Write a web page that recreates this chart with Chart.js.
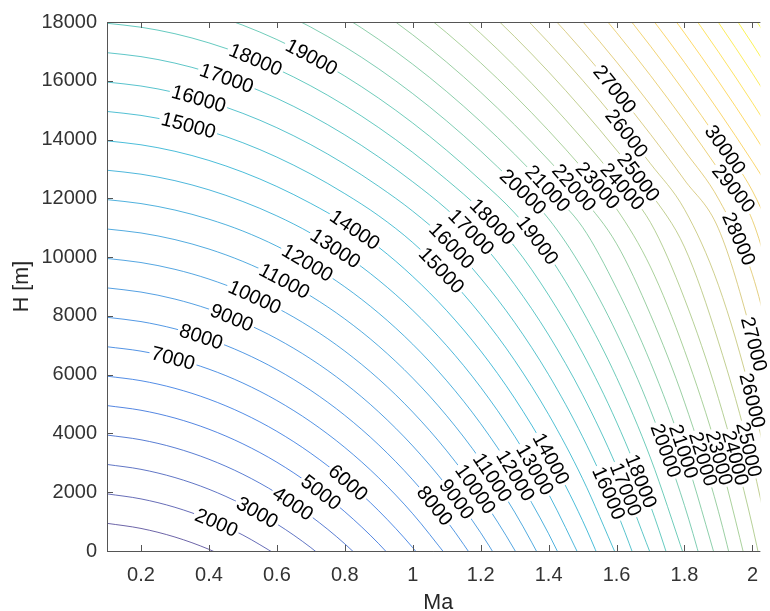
<!DOCTYPE html>
<html>
<head>
<meta charset="utf-8">
<script src="https://cdn.jsdelivr.net/npm/chart.js@4.4.1/dist/chart.umd.min.js"></script>
<style>
  html, body { margin: 0; padding: 0; background: #fff; }
  #wrap { width: 770px; height: 611px; }
</style>
</head>
<body>
<div id="wrap"><canvas id="chart" width="770" height="611"></canvas></div>
<script>
// Mach number columns at which each contour's altitude was read
const maCols = [0.1, 0.2, 0.3, 0.4, 0.5, 0.6, 0.7, 0.8, 0.9, 1.0, 1.1, 1.2, 1.3, 1.4, 1.5, 1.6, 1.7, 1.8, 1.9, 2.0, 2.1];

const levels = [1000, 2000, 3000, 4000, 5000, 6000, 7000, 8000, 9000, 10000, 11000, 12000,
    13000, 14000, 15000, 16000, 17000, 18000, 19000, 20000, 21000, 22000, 23000, 24000,
    25000, 26000, 27000, 28000, 29000, 30000, 31000, 32000, 33000, 34000, 35000, 36000];

// H [m] of each contour level at the Ma columns above
const h1000 = [942, 768, 475, 57, -491];
const h2000 = [1944, 1773, 1487, 1079, 543, -130];
const h3000 = [2945, 2779, 2499, 2101, 1578, 920, 116, -849];
const h4000 = [3946, 3784, 3511, 3122, 2612, 1970, 1185, 244, -874];
const h5000 = [4948, 4789, 4523, 4144, 3646, 3021, 2255, 1337, 247, -1039];
const h6000 = [5949, 5795, 5535, 5166, 4681, 4071, 3325, 2430, 1367, 114, -1359];
const h7000 = [6950, 6800, 6547, 6188, 5715, 5121, 4395, 3523, 2488, 1268, -167];
const h8000 = [7952, 7806, 7560, 7210, 6750, 6172, 5464, 4616, 3609, 2421, 1025, -615];
const h9000 = [8953, 8811, 8572, 8231, 7784, 7222, 6534, 5709, 4730, 3575, 2217, 622, -1255];
const h10000 = [9954, 9816, 9584, 9253, 8818, 8272, 7604, 6802, 5851, 4728, 3409, 1859, 35, -2119];
const h11000 = [10956, 10822, 10596, 10275, 9853, 9323, 8674, 7896, 6972, 5882, 4601, 3096, 1325, -766];
const h12000 = [11956, 11822, 11601, 11290, 10887, 10373, 9743, 8989, 8092, 7035, 5793, 4334, 2615, 587, -1823];
const h13000 = [12956, 12822, 12601, 12290, 11891, 11403, 10813, 10082, 9213, 8189, 6985, 5571, 3906, 1940, -395];
const h14000 = [13956, 13822, 13601, 13290, 12891, 12403, 11826, 11160, 10334, 9342, 8177, 6808, 5196, 3293, 1032, -1679];
const h15000 = [14956, 14822, 14601, 14290, 13891, 13403, 12826, 12160, 11406, 10496, 9369, 8045, 6486, 4646, 2460, -162];
const h16000 = [15956, 15822, 15601, 15290, 14891, 14403, 13826, 13160, 12406, 11563, 10561, 9282, 7776, 5999, 3887, 1355, -1713];
const h17000 = [16956, 16822, 16601, 16290, 15891, 15403, 14826, 14160, 13406, 12563, 11631, 10519, 9066, 7352, 5315, 2871, -88];
const h18000 = [17956, 17822, 17601, 17290, 16891, 16403, 15826, 15160, 14406, 13563, 12631, 11611, 10357, 8705, 6742, 4388, 1537, -1967];
const h19000 = [18956, 18822, 18601, 18290, 17891, 17403, 16826, 16160, 15406, 14563, 13631, 12611, 11501, 10058, 8170, 5905, 3162, -209];
const h20000 = [19956, 19822, 19601, 19290, 18891, 18403, 17826, 17160, 16406, 15563, 14631, 13611, 12501, 11303, 9597, 7422, 4788, 1549, -2508];
const h21000 = [20956, 20822, 20601, 20290, 19891, 19403, 18826, 18160, 17406, 16563, 15631, 14611, 13501, 12303, 11017, 8939, 6413, 3307, -583];
const h22000 = [21956, 21822, 21601, 21290, 20891, 20403, 19826, 19160, 18406, 17563, 16631, 15611, 14501, 13303, 12017, 10456, 8038, 5065, 1342, -3430];
const h23000 = [22956, 22822, 22601, 22290, 21891, 21403, 20826, 20160, 19406, 18563, 17631, 16611, 15501, 14303, 13017, 11641, 9663, 6824, 3267, -1292];
const h24000 = [23956, 23822, 23601, 23290, 22891, 22403, 21826, 21160, 20406, 19563, 18631, 17611, 16501, 15303, 14017, 12641, 11177, 8582, 5191, 847, -4900];
const h25000 = [24956, 24822, 24601, 24290, 23891, 23403, 22826, 22160, 21406, 20563, 19631, 18611, 17501, 16303, 15017, 13641, 12177, 10340, 7116, 2985, -2479];
const h26000 = [25956, 25822, 25601, 25290, 24891, 24403, 23826, 23160, 22406, 21563, 20631, 19611, 18501, 17303, 16017, 14641, 13177, 11624, 9041, 5124, -58];
const h27000 = [26956, 26822, 26601, 26290, 25891, 25403, 24826, 24160, 23406, 22563, 21631, 20611, 19501, 18303, 17017, 15641, 14177, 12624, 10966, 7263, 2363];
const h28000 = [27956, 27822, 27601, 27290, 26891, 26403, 25826, 25160, 24406, 23563, 22631, 21611, 20501, 19303, 18017, 16641, 15177, 13624, 11982, 9401, 4784];
const h29000 = [28956, 28822, 28601, 28290, 27891, 27403, 26826, 26160, 25406, 24563, 23631, 22611, 21501, 20303, 19017, 17641, 16177, 14624, 12982, 11252, 7205];
const h30000 = [29956, 29822, 29601, 29290, 28891, 28403, 27826, 27160, 26406, 25563, 24631, 23611, 22501, 21303, 20017, 18641, 17177, 15624, 13982, 12252, 9626];
const h31000 = [30956, 30822, 30601, 30290, 29891, 29403, 28826, 28160, 27406, 26563, 25631, 24611, 23501, 22303, 21017, 19641, 18177, 16624, 14982, 13252, 11433];
const h32000 = [31956, 31822, 31601, 31290, 30891, 30403, 29826, 29160, 28406, 27563, 26631, 25611, 24501, 23303, 22017, 20641, 19177, 17624, 15982, 14252, 12433];
const h33000 = [32956, 32822, 32601, 32290, 31891, 31403, 30826, 30160, 29406, 28563, 27631, 26611, 25501, 24303, 23017, 21641, 20177, 18624, 16982, 15252, 13433];
const h34000 = [33956, 33822, 33601, 33290, 32891, 32403, 31826, 31160, 30406, 29563, 28631, 27611, 26501, 25303, 24017, 22641, 21177, 19624, 17982, 16252, 14433];
const h35000 = [34956, 34822, 34601, 34290, 33891, 33403, 32826, 32160, 31406, 30563, 29631, 28611, 27501, 26303, 25017, 23641, 22177, 20624, 18982, 17252, 15433];
const h36000 = [35956, 35822, 35601, 35290, 34891, 34403, 33826, 33160, 32406, 31563, 30631, 29611, 28501, 27303, 26017, 24641, 23177, 21624, 19982, 18252, 16433];

const heights = [h1000, h2000, h3000, h4000, h5000, h6000, h7000, h8000, h9000, h10000, h11000, h12000,
    h13000, h14000, h15000, h16000, h17000, h18000, h19000, h20000, h21000, h22000, h23000, h24000,
    h25000, h26000, h27000, h28000, h29000, h30000, h31000, h32000, h33000, h34000, h35000, h36000];

// inline contour labels (level, approx Ma, approx H); snapped onto the drawn curve
const labelLevels = [2000, 3000, 4000, 5000, 6000, 7000, 8000, 9000, 10000, 11000, 12000, 13000, 14000,
    15000, 16000, 17000, 18000, 19000,
    15000, 16000, 17000, 18000, 19000, 20000, 21000, 22000, 23000, 24000, 25000, 26000, 27000,
    30000, 29000, 28000,
    8000, 9000, 10000, 11000, 12000, 13000, 14000,
    16000, 17000, 18000, 20000, 21000, 22000, 23000, 24000, 25000,
    27000, 26000];
const labelMa = [0.419, 0.535, 0.640, 0.724, 0.805, 0.291, 0.370, 0.463, 0.535, 0.622, 0.689, 0.770, 0.834,
    0.338, 0.370, 0.451, 0.535, 0.695,
    1.081, 1.110, 1.173, 1.234, 1.365, 1.318, 1.391, 1.464, 1.536, 1.609, 1.667, 1.626, 1.594,
    1.916, 1.936, 1.960,
    1.060, 1.124, 1.173, 1.220, 1.292, 1.356, 1.408,
    1.580, 1.646, 1.681, 1.733, 1.777, 1.829, 1.873, 1.928, 1.971,
    1.989, 1.980];
const labelH = [881, 1153, 1491, 1898, 2237, 6441, 7051, 7797, 8678, 9153, 9763, 10270, 10983,
    14442, 15391, 16069, 16679, 16679,
    9526, 10306, 10882, 11221, 10543, 12153, 12255, 12255, 12323, 12323, 12763, 14170, 15730,
    13594, 12238, 10645,
    1491, 1729, 2000, 2407, 2508, 2746, 3153,
    1966, 2170, 2407, 3356, 3356, 3085, 3085, 3085, 3356,
    6950, 5120];

const xTicks = [0.2, 0.4, 0.6, 0.8, 1.0, 1.2, 1.4, 1.6, 1.8, 2.0];
const yTicks = [0, 2000, 4000, 6000, 8000, 10000, 12000, 14000, 16000, 18000];

const FONT = '"Liberation Sans", Arial, Helvetica, sans-serif';
const parulaStops = ['#352a87', '#0f5cdd', '#1481d6', '#06a4ca', '#2eb7a4', '#87bf77', '#d1bb59', '#fec832', '#f9fb0e'];

function parula(t, alpha) {
    t = Math.max(0, Math.min(1, t));
    const n = parulaStops.length - 1;
    const f = t * n;
    const i = Math.min(Math.floor(f), n - 1);
    const u = f - i;
    const a = parseInt(parulaStops[i].slice(1), 16);
    const b = parseInt(parulaStops[i + 1].slice(1), 16);
    const mix = (sh) => Math.round(((a >> sh) & 255) * (1 - u) + ((b >> sh) & 255) * u);
    return `rgba(${mix(16)}, ${mix(8)}, ${mix(0)}, ${alpha})`;
}

const minLevel = levels[0];
const maxLevel = levels[levels.length - 1];

const datasets = levels.map((lvl, i) => ({
    label: String(lvl),
    data: heights[i].map((h, j) => ({ x: maCols[j], y: h })),
    borderColor: parula((lvl - minLevel) / (maxLevel - minLevel), 0.72),
    borderWidth: 1,
    pointRadius: 0,
    fill: false,
    cubicInterpolationMode: 'monotone'
}));

// find the point on a drawn contour closest to (tx, ty), with its direction
function snapToCurve(points, tx, ty) {
    let best = null;
    for (let i = 0; i < points.length - 1; i++) {
        const p0 = points[i], p3 = points[i + 1];
        if (!isFinite(p0.x) || !isFinite(p0.y) || !isFinite(p3.x) || !isFinite(p3.y)) continue;
        const c1x = isFinite(p0.cp2x) ? p0.cp2x : p0.x, c1y = isFinite(p0.cp2y) ? p0.cp2y : p0.y;
        const c2x = isFinite(p3.cp1x) ? p3.cp1x : p3.x, c2y = isFinite(p3.cp1y) ? p3.cp1y : p3.y;
        for (let k = 0; k <= 40; k++) {
            const t = k / 40, s = 1 - t;
            const x = s * s * s * p0.x + 3 * s * s * t * c1x + 3 * s * t * t * c2x + t * t * t * p3.x;
            const y = s * s * s * p0.y + 3 * s * s * t * c1y + 3 * s * t * t * c2y + t * t * t * p3.y;
            const d = (x - tx) * (x - tx) + (y - ty) * (y - ty);
            if (!best || d < best.d) {
                const dx = 3 * s * s * (c1x - p0.x) + 6 * s * t * (c2x - c1x) + 3 * t * t * (p3.x - c2x);
                const dy = 3 * s * s * (c1y - p0.y) + 6 * s * t * (c2y - c1y) + 3 * t * t * (p3.y - c2y);
                best = { d, x, y, dx: dx || (p3.x - p0.x), dy: dy || (p3.y - p0.y) };
            }
        }
    }
    return best;
}

const contourLabels = {
    id: 'contourLabels',
    afterDatasetsDraw(chart) {
        const ctx = chart.ctx;
        const xs = chart.scales.x, ys = chart.scales.y;
        ctx.save();
        ctx.font = '20px ' + FONT;
        ctx.textAlign = 'center';
        ctx.textBaseline = 'middle';
        const placed = [];
        labelLevels.forEach((lvl, i) => {
            const idx = levels.indexOf(lvl);
            if (idx < 0) return;
            const meta = chart.getDatasetMeta(idx);
            const hit = snapToCurve(meta.data, xs.getPixelForValue(labelMa[i]), ys.getPixelForValue(labelH[i]));
            if (!hit) return;
            let ang = Math.atan2(hit.dy, hit.dx);
            if (ang > Math.PI / 2) ang -= Math.PI;
            if (ang < -Math.PI / 2) ang += Math.PI;
            placed.push({ text: String(lvl), x: hit.x, y: hit.y, ang });
        });
        // white gaps first, then the text
        placed.forEach(p => {
            const w = ctx.measureText(p.text).width + 4;
            ctx.save();
            ctx.translate(p.x, p.y);
            ctx.rotate(p.ang);
            ctx.fillStyle = '#ffffff';
            ctx.fillRect(-w / 2, -8, w, 16);
            ctx.restore();
        });
        placed.forEach(p => {
            ctx.save();
            ctx.translate(p.x, p.y);
            ctx.rotate(p.ang);
            ctx.fillStyle = '#000000';
            ctx.fillText(p.text, 0, 1);
            ctx.restore();
        });
        ctx.restore();
    }
};

const axesBox = {
    id: 'axesBox',
    afterDraw(chart) {
        const ctx = chart.ctx;
        const { left, right, top, bottom } = chart.chartArea;
        const xs = chart.scales.x, ys = chart.scales.y;
        ctx.save();
        ctx.strokeStyle = '#555555';
        ctx.lineWidth = 1;
        ctx.beginPath();
        ctx.moveTo(right, top + 0.5);
        ctx.lineTo(left + 0.5, top + 0.5);
        ctx.lineTo(left + 0.5, bottom + 0.5);
        ctx.lineTo(right, bottom + 0.5);
        xTicks.forEach(v => {
            const px = Math.round(xs.getPixelForValue(v)) + 0.5;
            ctx.moveTo(px, bottom);
            ctx.lineTo(px, bottom - 6);
            ctx.moveTo(px, top);
            ctx.lineTo(px, top + 6);
        });
        yTicks.forEach(v => {
            const py = Math.round(ys.getPixelForValue(v)) + 0.5;
            ctx.moveTo(left, py);
            ctx.lineTo(left + 6, py);
        });
        ctx.stroke();

        ctx.fillStyle = '#262626';
        ctx.font = '21.5px ' + FONT;
        ctx.textAlign = 'center';
        ctx.textBaseline = 'alphabetic';
        ctx.fillText('Ma', (left + xs.getPixelForValue(2.05)) / 2, 609);
        ctx.translate(22, (top + bottom) / 2);
        ctx.rotate(-Math.PI / 2);
        ctx.textBaseline = 'middle';
        ctx.fillText('H [m]', 0, 0);
        ctx.restore();
    }
};

new Chart(document.getElementById('chart'), {
    type: 'line',
    data: { datasets },
    options: {
        responsive: false,
        animation: false,
        devicePixelRatio: 1,
        layout: { padding: { top: 20, left: 0, right: 0, bottom: 0 } },
        plugins: { legend: { display: false }, tooltip: { enabled: false } },
        scales: {
            x: {
                type: 'linear',
                min: 0.1,
                max: 2.0234,
                afterBuildTicks: s => { s.ticks = xTicks.map(v => ({ value: v })); },
                afterFit: s => { s.height = 60; },
                grid: { display: false, drawTicks: false },
                border: { display: false },
                ticks: {
                    autoSkip: false,
                    maxRotation: 0,
                    padding: 12,
                    color: '#333333',
                    font: { size: 20, family: FONT },
                    callback: v => String(+Number(v).toFixed(1))
                }
            },
            y: {
                type: 'linear',
                min: 0,
                max: 18000,
                afterBuildTicks: s => { s.ticks = yTicks.map(v => ({ value: v })); },
                afterFit: s => { s.width = 107; },
                grid: { display: false, drawTicks: false },
                border: { display: false },
                ticks: {
                    autoSkip: false,
                    padding: 10,
                    color: '#333333',
                    font: { size: 20, family: FONT },
                    callback: v => String(v)
                }
            }
        }
    },
    plugins: [contourLabels, axesBox]
});
</script>
</body>
</html>
